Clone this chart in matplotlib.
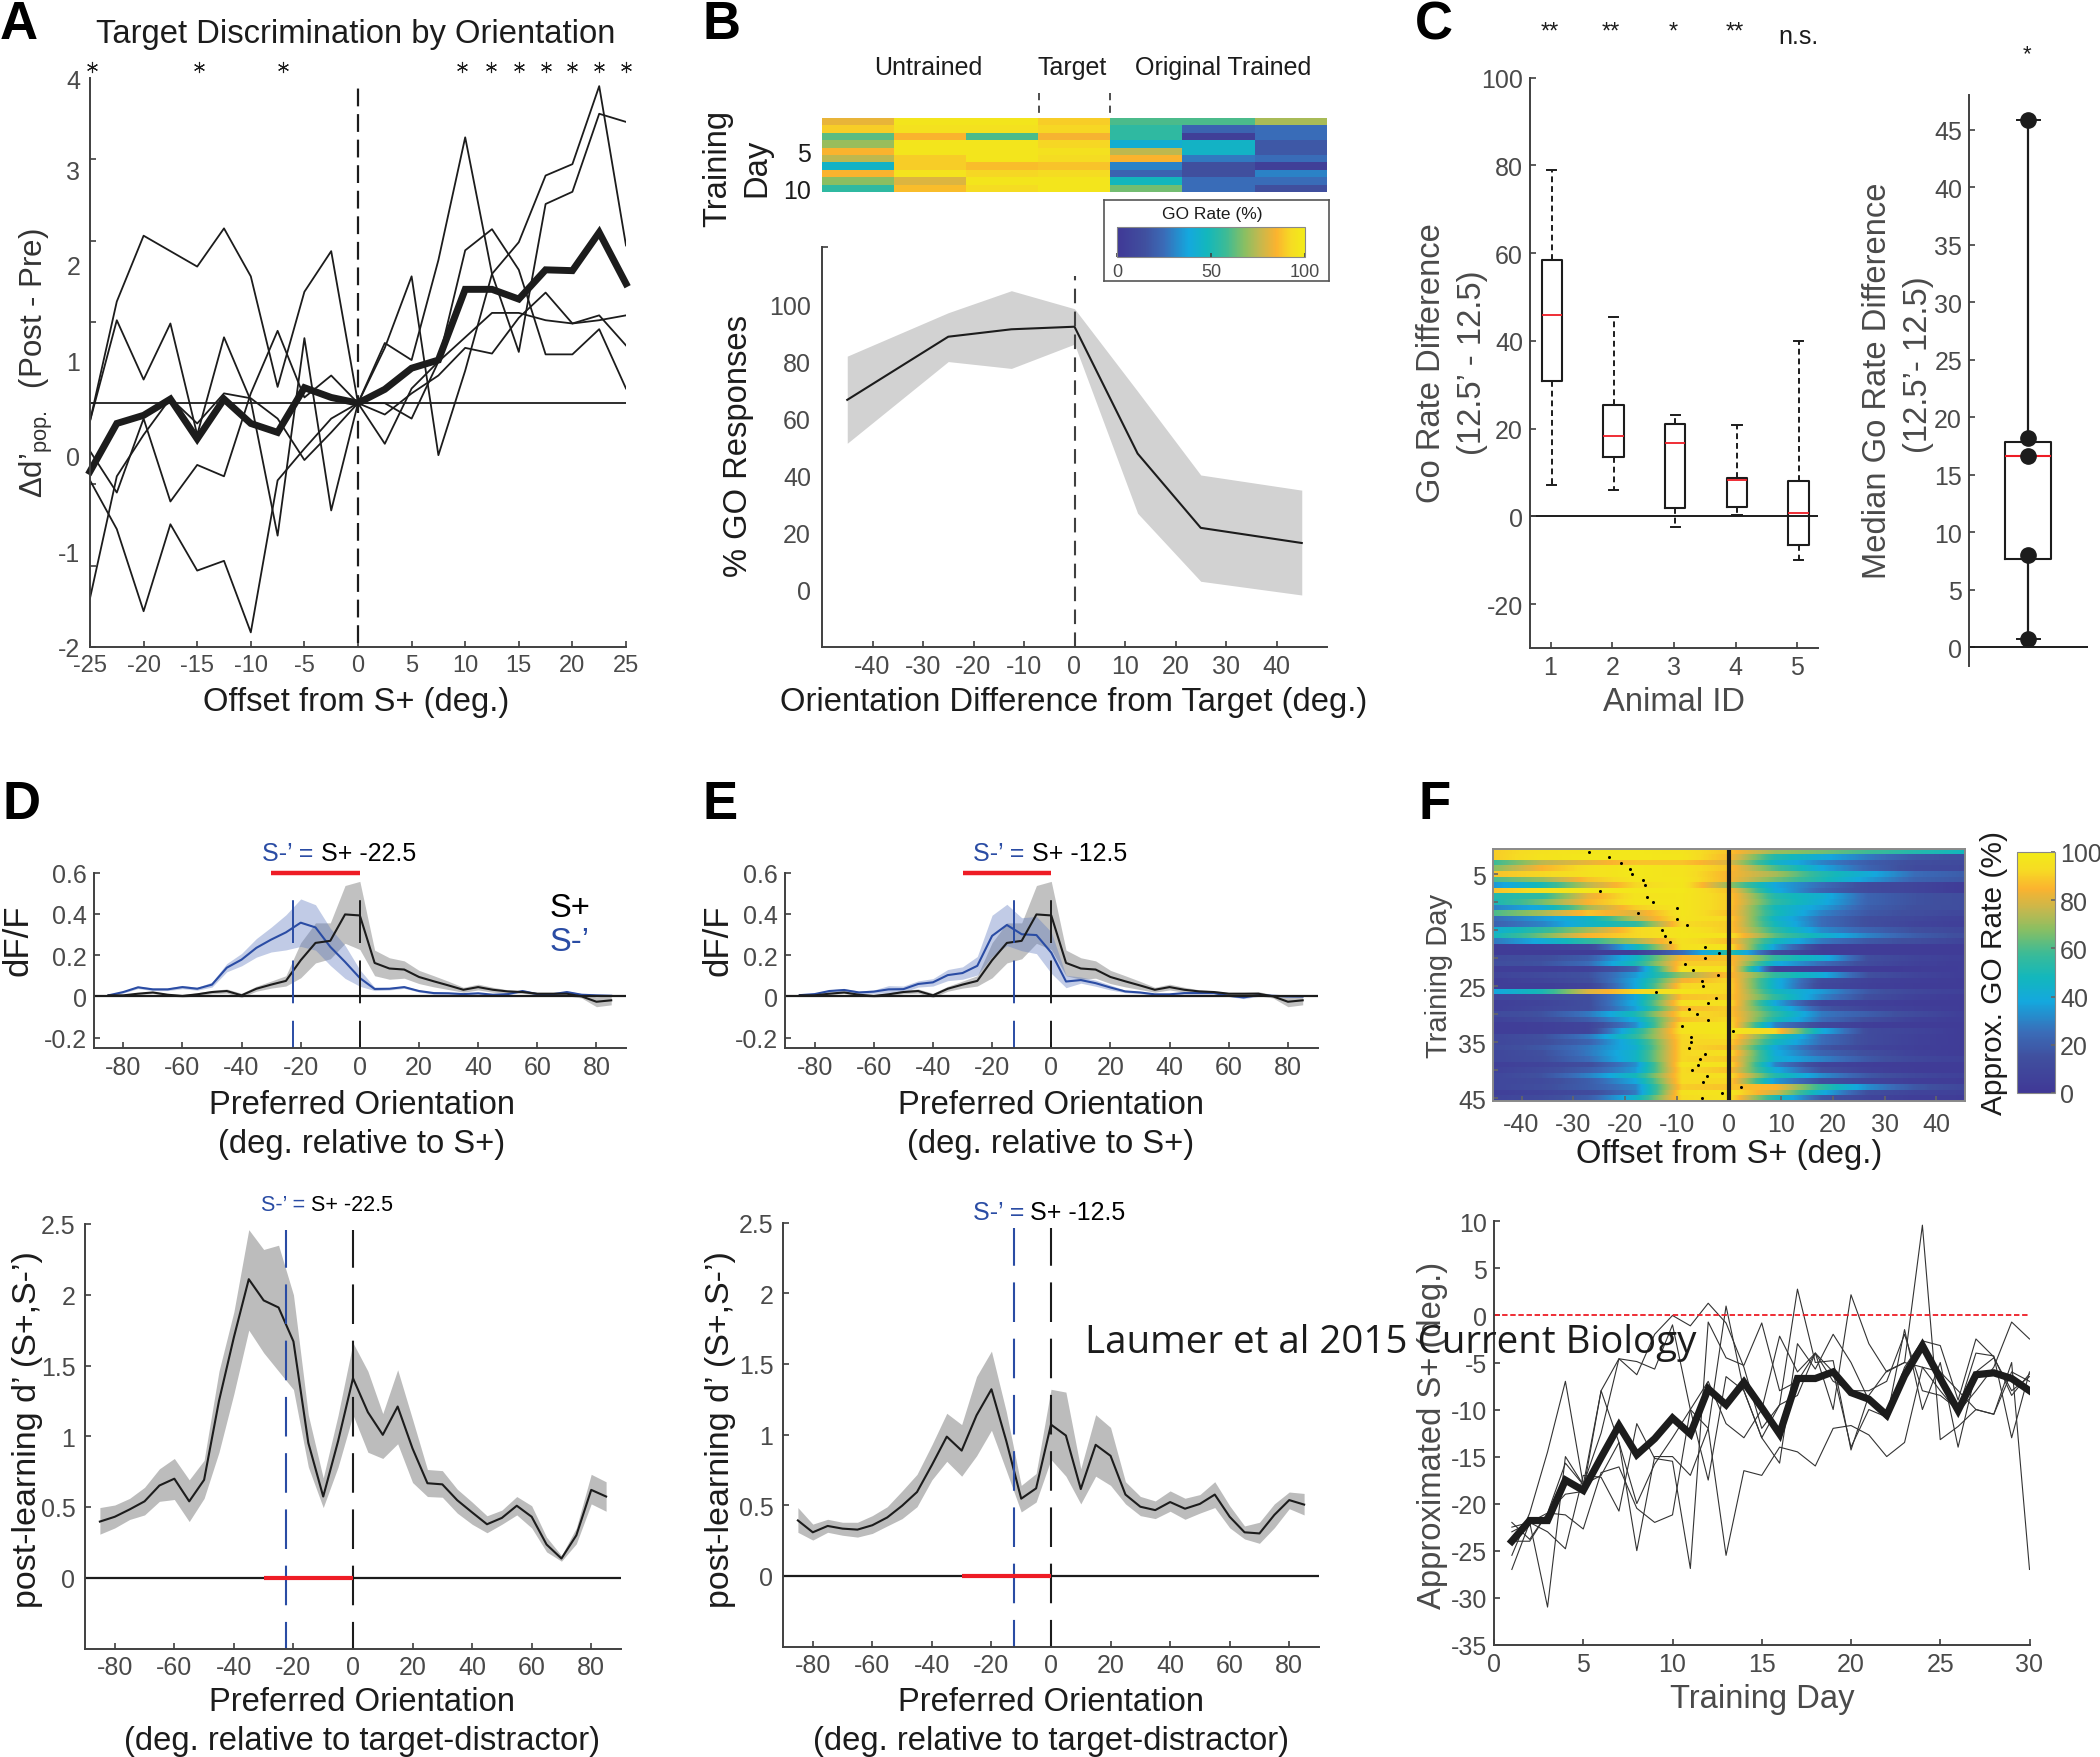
import numpy as np
import matplotlib
matplotlib.use("Agg")
import matplotlib.pyplot as plt
from matplotlib.colors import LinearSegmentedColormap, Normalize
from matplotlib.cm import ScalarMappable

plt.rcParams["font.family"] = ["Liberation Sans", "DejaVu Sans"]
plt.rcParams["mathtext.fontset"] = "custom"
plt.rcParams["mathtext.rm"] = "Liberation Sans"
plt.rcParams["mathtext.it"] = "Liberation Sans"
plt.rcParams["axes.unicode_minus"] = False

# %%
# panel A
a_x = [-25, -22.5, -20, -17.5, -15, -12.5, -10, -7.5, -5, -2.5, 0, 2.5, 5, 7.5, 10, 12.5, 15, 17.5, 20, 22.5, 25]
a_mean = [-0.84, -0.25, -0.15, 0.05, -0.44, 0.05, -0.25, -0.36, 0.19, 0.07, 0, 0.17, 0.43, 0.53, 1.40, 1.40, 1.28, 1.64, 1.63, 2.10, 1.47]
a_line1 = [-0.22, 1.25, 2.06, 1.87, 1.68, 2.15, 1.56, 0.20, 1.37, 1.87, 0, 0.74, 0.53, 1.76, 3.27, 1.59, 0.63, 2.45, 2.60, 3.56, 3.46]
a_line2 = [-0.22, 1.02, 0.29, 0.98, -0.39, 0.81, 0.03, -1.63, 0.80, -1.32, 0, 0.68, 1.56, -0.64, 0.40, 1.59, 1.98, 2.80, 2.94, 3.90, 1.94]
a_line3 = [-0.59, -1.10, -0.19, -1.21, -0.76, -0.90, 0.12, 0.89, 0.07, 0.34, 0, -0.50, 0.18, 0.51, 1.88, 2.14, 1.64, 0.60, 0.60, 0.91, 0.18]
a_line4 = [-0.95, -1.55, -2.56, -1.49, -2.06, -1.94, -2.82, -0.95, -0.56, -0.19, 0, 0, -0.19, 0.51, 0.81, 1.11, 1.11, 1.02, 0.98, 1.02, 1.08]
a_line5 = [-2.40, -0.90, -0.39, 0.06, -0.25, 0.12, 0.06, -0.19, -0.70, -0.36, 0, -0.14, 0.12, 0.34, 0.68, 0.61, 1.05, 1.36, 0.98, 1.08, 0.71]
a_stars = [-24.8, -14.8, -7.0, 9.67, 12.4, 15, 17.5, 20, 22.5, 25]
a_label_pos = [4, 2.87, 1.7, 0.53, -0.64, -1.83, -2.99]
a_labels = ["4", "3", "2", "1", "0", "-1", "-2"]

# panel B
b_heat = [
    [82, 97, 97, 90, 60, 60, 72],
    [90, 95, 95, 92, 55, 22, 25],
    [62, 85, 60, 84, 55, 5, 25],
    [70, 97, 97, 92, 42, 45, 18],
    [85, 97, 97, 95, 75, 45, 18],
    [75, 90, 97, 93, 85, 28, 25],
    [45, 90, 87, 88, 30, 15, 5],
    [85, 96, 92, 93, 22, 15, 30],
    [68, 80, 97, 97, 48, 25, 25],
    [55, 87, 93, 97, 65, 25, 15],
]
b_x = [-45, -25, -12.5, 0, 12.5, 25, 45]
b_mean = [66.5, 88.6, 91.2, 92.1, 47.7, 21.7, 16.4]
b_upper = [81.8, 97, 104.7, 98.4, 69.5, 40.2, 34.9]
b_lower = [51.3, 79.9, 77.5, 86, 26.8, 3, -1.8]

# panel C
c_ids = [1, 2, 3, 4, 5]
c_whishi = [79, 45.5, 23, 20.8, 40]
c_q3 = [58.4, 25.3, 21.1, 8.8, 8]
c_med = [45.8, 18.3, 16.6, 8.2, 0.7]
c_q1 = [30.8, 13.6, 1.8, 2.2, -6.6]
c_whislo = [7.2, 5.9, -2.4, 0.2, -9.9]
c_sig = ["**", "**", "*", "**"]
c2_dots = [45.9, 18.2, 16.6, 8.0, 0.7]
c2_q3 = 17.8
c2_q1 = 7.7

# panels D, E
ori = list(range(-85, 90, 5))
splus = [.005, .005, .013, .019, .008, .002, .01, .021, .026, .005, .037, .057, .075, .175, .259, .269, .397, .392, .162, .135, .13, .094, .073, .053, .032, .045, .032, .024, .021, .013, .013, .013, 0, -.026, -.019]
splus_err = [.003, .003, .004, .005, .005, .006, .007, .008, .01, .01, .012, .017, .025, .085, .097, .087, .14, .165, .062, .052, .042, .032, .027, .02, .012, .014, .012, .008, .006, .006, .006, .01, .008, .024, .022]
d_blue = [.005, .021, .044, .034, .034, .045, .037, .057, .139, .178, .235, .275, .31, .357, .334, .24, .167, .089, .036, .037, .045, .026, .016, .015, .011, .015, .008, .011, .026, .011, .01, .021, .008, .005, .003]
d_blue_err = [.003, .005, .006, .006, .006, .008, .007, .012, .02, .03, .045, .06, .085, .115, .11, .09, .08, .04, .008, .006, .006, .005, .005, .004, .004, .004, .004, .004, .006, .005, .005, .006, .005, .004, .004]
e_blue = [.006, .011, .026, .031, .019, .023, .034, .035, .06, .068, .103, .113, .148, .293, .346, .301, .297, .212, .072, .079, .064, .043, .024, .019, .01, .01, .016, .016, .016, .003, -.005, .006, .003, 0, 0]
e_blue_err = [.004, .005, .006, .006, .007, .008, .018, .015, .015, .018, .027, .03, .045, .1, .1, .08, .09, .1, .03, .015, .015, .012, .006, .005, .004, .004, .004, .004, .004, .004, .006, .006, .004, .004, .004]

d_dp = [.397, .431, .483, .54, .652, .70, .54, .692, 1.25, 1.70, 2.11, 1.96, 1.91, 1.67, .953, .574, .966, 1.41, 1.17, 1.01, 1.21, .913, .668, .66, .548, .462, .378, .423, .509, .431, .235, .136, .30, .621, .574]
d_dp_up = [.496, .514, .561, .639, .77, .843, .692, .83, 1.46, 1.88, 2.46, 2.32, 2.35, 2.0, 1.15, .705, 1.15, 1.66, 1.46, 1.16, 1.47, 1.12, .765, .757, .626, .535, .438, .478, .574, .509, .287, .157, .352, .731, .678]
d_dp_lo = [.308, .352, .412, .444, .54, .553, .397, .561, .887, 1.30, 1.75, 1.59, 1.46, 1.33, .783, .496, .783, 1.15, .887, .843, .947, .673, .574, .569, .457, .378, .318, .378, .444, .352, .183, .117, .24, .522, .47]
e_dp = [.392, .308, .353, .334, .327, .358, .413, .496, .593, .784, .985, .886, 1.136, 1.32, .953, .546, .619, 1.07, .993, .614, .927, .849, .575, .489, .465, .522, .475, .509, .575, .418, .308, .30, .431, .536, .504]
e_dp_up = [.483, .366, .40, .379, .379, .426, .489, .601, .718, .927, 1.15, 1.07, 1.41, 1.59, 1.16, .64, .724, 1.32, 1.30, .758, 1.14, 1.05, .666, .562, .53, .601, .549, .575, .666, .496, .353, .379, .509, .593, .583]
e_dp_lo = [.308, .253, .308, .287, .274, .30, .353, .405, .489, .679, .81, .705, .849, 1.03, .744, .452, .522, .823, .705, .509, .705, .64, .509, .426, .405, .457, .40, .444, .483, .34, .261, .23, .34, .475, .431]

# panel F, heat map rows (day 1 to 45) at the offsets in f_cols
f_cols = [-45, -36, -27, -18, -9, 0, 9, 18, 27, 36, 45]
f_heat = [
    [90, 95, 97, 98, 96, 88, 70, 65, 58, 52, 48],
    [90, 96, 98, 98, 97, 86, 52, 40, 28, 18, 14],
    [58, 75, 82, 88, 88, 80, 45, 30, 20, 14, 12],
    [68, 85, 95, 98, 96, 88, 60, 38, 22, 12, 10],
    [88, 92, 95, 98, 96, 85, 72, 52, 40, 25, 20],
    [60, 70, 88, 97, 97, 85, 65, 50, 35, 22, 18],
    [35, 50, 75, 92, 97, 70, 38, 25, 12, 8, 3],
    [88, 95, 98, 98, 98, 88, 40, 22, 12, 8, 3],
    [52, 55, 82, 96, 97, 90, 52, 42, 22, 16, 14],
    [50, 65, 85, 97, 97, 90, 55, 40, 22, 16, 14],
    [30, 40, 72, 90, 97, 90, 48, 35, 20, 15, 14],
    [60, 72, 88, 80, 97, 88, 50, 30, 18, 14, 10],
    [25, 35, 45, 75, 96, 92, 45, 25, 14, 10, 6],
    [22, 30, 45, 55, 93, 90, 48, 25, 14, 8, 5],
    [42, 55, 72, 92, 97, 90, 55, 32, 22, 15, 10],
    [48, 65, 85, 92, 97, 96, 62, 44, 30, 20, 14],
    [28, 40, 55, 72, 95, 88, 48, 28, 18, 14, 8],
    [3, 5, 10, 45, 95, 97, 35, 5, 3, 3, 3],
    [3, 3, 3, 4, 25, 55, 12, 3, 3, 3, 3],
    [12, 14, 20, 45, 86, 88, 55, 42, 14, 8, 5],
    [14, 16, 25, 50, 90, 90, 40, 25, 12, 6, 4],
    [4, 4, 6, 22, 95, 95, 6, 3, 2, 3, 4],
    [8, 12, 16, 35, 70, 88, 55, 40, 15, 8, 4],
    [4, 8, 14, 38, 84, 92, 42, 12, 6, 4, 3],
    [4, 4, 8, 38, 92, 93, 42, 10, 5, 3, 3],
    [38, 50, 80, 92, 97, 92, 48, 35, 18, 10, 6],
    [10, 12, 15, 38, 88, 90, 55, 30, 14, 6, 3],
    [5, 8, 14, 40, 95, 95, 38, 8, 5, 3, 3],
    [5, 10, 14, 36, 86, 90, 48, 18, 8, 5, 3],
    [12, 16, 28, 50, 93, 90, 55, 28, 20, 12, 5],
    [7, 12, 20, 40, 88, 93, 50, 25, 14, 6, 4],
    [4, 5, 8, 32, 96, 96, 30, 10, 4, 3, 3],
    [4, 5, 8, 50, 96, 97, 92, 40, 12, 8, 3],
    [10, 15, 28, 55, 92, 95, 55, 25, 12, 6, 3],
    [10, 14, 22, 45, 92, 92, 48, 25, 12, 6, 3],
    [12, 18, 28, 42, 92, 88, 38, 18, 8, 5, 3],
    [10, 15, 28, 45, 92, 95, 40, 22, 14, 6, 3],
    [10, 14, 25, 45, 92, 90, 42, 30, 18, 10, 6],
    [5, 8, 14, 32, 96, 96, 30, 8, 4, 3, 3],
    [7, 12, 20, 35, 93, 88, 40, 15, 6, 3, 3],
    [10, 16, 30, 48, 93, 95, 52, 32, 18, 10, 6],
    [10, 12, 20, 38, 93, 92, 35, 14, 8, 4, 3],
    [10, 14, 20, 30, 90, 88, 85, 55, 32, 18, 10],
    [5, 8, 12, 28, 95, 97, 78, 40, 14, 8, 6],
    [8, 12, 20, 44, 93, 96, 50, 18, 8, 4, 3],
]
f_dots = [-27, -23.1, -20.8, -19, -18.7, -16.5, -16.2, -24.9, -15.8, -14.7, -10.1, -17.6, -10.1, -8.1, -12.9, -12.4, -11.4, -4.7, -1.9, -4.6, -8.4, -7, -2.1, -5.3, -5, -14.1, -2.5, -4.1, -7.7, -6.2, -4.1, -9.1, 0.8, -7.4, -7.4, -7.8, -4.7, -5.5, -5.9, -7.2, -4.3, -5.1, 2.3, -1.4, -5.2]

days = list(range(1, 31))
f_mean = [-24.0, -21.8, -21.8, -17.5, -18.6, -15.1, -11.7, -14.8, -13.1, -10.9, -12.6, -7.8, -9.5, -7.1, -9.8, -12.6, -6.7, -6.7, -6.0, -8.2, -8.9, -10.6, -6.4, -3.2, -6.7, -10.1, -6.3, -6.1, -6.7, -8.0]
f_line1 = [-23, -22, -31, -15, -18, -17, -13.5, -25, -15, -15, -17, -12, -25.5, -16.5, -17, -14, -14.5, -16, -12, -11.7, -12.7, -15, -13.5, -5.5, -6, -8, -10, -10.5, -5, -27]
f_line2 = [-25.5, -21, -14.5, -7, -18, -8, -4.6, -4.9, -5.7, -1, -10, -17.5, -6.5, -8, -13, -15.7, -3, -5.7, -2, -5, -9, -11, -1.5, -10, -5, -14, -6, -4.5, -8, -6.5]
f_line3 = [-27, -22, -21, -15.7, -18, -12.5, -4.6, -6.3, -2, 0, -1.1, 1.3, -0.8, -5.5, -12, -9.5, -8.5, -4, -6, -14, -10, -10.8, -5.5, -2.7, -3.2, -9, -2.5, -4.4, -8.5, -6.2]
f_line4 = [-24, -24, -21, -21.2, -22.7, -16.7, -16.1, -20.5, -22, -21.2, -10, -7, -11.5, -13, -10, -2.2, -6, -4, -7, -8, -8, -7, -2, -8, -8.5, -10, -4, -4.3, -13, -6]
f_line5 = [-22.5, -22, -23, -24.8, -17, -17.2, -20.8, -11.5, -15.2, -15.5, -26.9, -0.7, -4.5, -5.3, -0.8, -8, -7, -4, -10, 2.2, -3, -6, -5, 9.6, -13.2, -11.8, -10, -10.5, -6, -7]
f_line6 = [-22, -23.8, -21, -19, -18.7, -8, -13.5, -20, -15.8, -13, -10, -12, 1, -8, -13, -9.5, 2.8, -5, -4.8, -14.3, -8.5, -5.9, -5, -5.5, -8, -10.3, -8, -5.5, -0.7, -2.5]

# %%
W, H = 2100, 1758
DARK = "#1c1c1c"
GRAY = "#4a4a4a"
AXC = "#404040"
BLUE = "#2a4ca4"
RED = "#ee1c25"
TICK = 18
LABEL = 23.6

parula = LinearSegmentedColormap.from_list("parula_like", [
    (0.00, "#403896"), (0.15, "#40509f"), (0.25, "#3a6cb8"), (0.38, "#14a8de"),
    (0.48, "#13b7bc"), (0.58, "#3cbb96"), (0.68, "#8abf62"), (0.76, "#c4b84e"),
    (0.85, "#fbb32f"), (0.93, "#f6dc23"), (1.00, "#f2ec18")])
norm = Normalize(0, 100)

fig = plt.figure(figsize=(W / 100, H / 100), dpi=100)


def add_ax(left, top, right, bottom):
    ax = fig.add_axes([left / W, 1 - bottom / H, (right - left) / W, (bottom - top) / H])
    ax.patch.set_alpha(0)
    for s in ["top", "right"]:
        ax.spines[s].set_visible(False)
    for s in ["left", "bottom"]:
        ax.spines[s].set_color(AXC)
        ax.spines[s].set_linewidth(1.4)
    ax.tick_params(direction="in", length=4.5, width=1.2, color=AXC, labelcolor=GRAY, labelsize=TICK, pad=5)
    return ax


def ftext(x, y, s, size=LABEL, color=DARK, ha="center", va="center", **kw):
    return fig.text(x / W, 1 - y / H, s, fontsize=size, color=color, ha=ha, va=va, **kw)


for letter, lx, ly in [("A", 0, 39), ("B", 703, 39), ("C", 1415, 39), ("D", 2, 819), ("E", 703, 819), ("F", 1418, 819)]:
    ftext(lx, ly, letter, size=38, color="black", ha="left", va="baseline", fontweight="bold")

# %%
# A
ax = add_ax(90, 79, 626, 648)
for line in [a_line1, a_line2, a_line3, a_line4, a_line5]:
    ax.plot(a_x, line, color=DARK, lw=1.3)
ax.plot(a_x, a_mean, color=DARK, lw=5, solid_joinstyle="miter", clip_on=False)
ax.axhline(0, color=DARK, lw=1.3)
ax.plot([0, 0], [-2.95, 3.95], color=DARK, lw=1.6, dashes=(8, 3.5))
ax.plot(a_stars, [4.13] * len(a_stars), ls="none", marker=(6, 2, 0), ms=8, mew=0.8, color=DARK, clip_on=False)
ax.set_xlim(-25, 25)
ax.set_ylim(-3, 4)
ax.set_xticks(range(-25, 30, 5))
ax.set_yticks(a_label_pos, a_labels)
ax.set_yticks(range(-3, 5), minor=True)
ax.tick_params(axis="y", which="major", length=0, pad=7)
ax.tick_params(axis="y", which="minor", direction="in", length=4.5, width=1.2, color=AXC)
ax.tick_params(axis="x", labelsize=TICK - 1)
ftext(356, 34, "Target Discrimination by Orientation")
ftext(356, 703, "Offset from S+ (deg.)")
ftext(36, 363, r"Δd’$_{\mathrm{pop.}}$  (Post - Pre)", size=22.5, color="#333333", rotation=90)

# %%
# B
ax = add_ax(822, 119, 1327, 193)
ax.imshow(b_heat, cmap=parula, norm=norm, aspect="auto", extent=(0, 7, 10.5, 0.5), interpolation="nearest")
ax.set_xticks([])
ax.set_yticks([5, 10])
ax.tick_params(axis="y", length=0, labelcolor=DARK, labelsize=TICK, pad=8)
for s in ax.spines.values():
    s.set_visible(False)
ftext(928, 68, "Untrained", size=18)
ftext(1072, 68, "Target", size=18)
ftext(1223, 68, "Original Trained", size=18)
ftext(718, 168, "Training", rotation=90)
ftext(757, 168, "Day", rotation=90)
for px in [1039, 1110]:
    fig.add_artist(plt.Line2D([px / W, px / W], [1 - 94 / H, 1 - 118 / H], color=AXC, lw=1.3, dashes=(4, 3)))

ax = add_ax(822, 248, 1327, 648)
ax.fill_between(b_x, b_lower, b_upper, color="#d2d2d2", lw=0)
ax.plot(b_x, b_mean, color=DARK, lw=1.5)
ax.plot([0, 0], [-20, 110], color=AXC, lw=1.5, dashes=(7, 4))
ax.set_xlim(-50, 50)
ax.set_ylim(-20, 120)
ax.set_xticks(range(-40, 50, 10))
ax.set_yticks(range(0, 120, 20))
ax.set_yticks([120], minor=True)
ax.tick_params(axis="y", which="major", length=0, pad=8)
ax.tick_params(axis="y", which="minor", direction="in", length=4.5, width=1.2, color=AXC)
ftext(1074, 703, "Orientation Difference from Target (deg.)")
ftext(739, 446, "% GO Responses", rotation=90)

box = add_ax(1104, 201, 1329, 282)
box.set_xticks([])
box.set_yticks([])
box.patch.set_alpha(1)
for s in box.spines.values():
    s.set_visible(True)
    s.set_color("#555555")
    s.set_linewidth(1.2)
ftext(1212, 215, "GO Rate (%)", size=12.5)
cax = add_ax(1117, 228, 1305, 258)
cb = fig.colorbar(ScalarMappable(norm=norm, cmap=parula), cax=cax, orientation="horizontal")
cb.set_ticks([0, 50, 100])
cb.ax.tick_params(direction="in", length=3, color=AXC, labelcolor=GRAY, labelsize=13, pad=4)
cb.outline.set_edgecolor("#888888")

# %%
# C
ax = add_ax(1530, 78.5, 1818, 649)
stats = []
for q in zip(c_whislo, c_q1, c_med, c_q3, c_whishi):
    stats.append(dict(whislo=q[0], q1=q[1], med=q[2], q3=q[3], whishi=q[4], fliers=[]))
ax.bxp(stats, positions=[i + 0.02 for i in c_ids], widths=0.33, showfliers=False,
       boxprops=dict(color=DARK, lw=1.5), medianprops=dict(color=RED, lw=1.3),
       whiskerprops=dict(color=DARK, lw=1.4, ls=(0, (3, 2))), capprops=dict(color=DARK, lw=1.4), capwidths=0.15)
ax.axhline(0, color=DARK, lw=1.4, zorder=1)
ax.set_xlim(0.667, 5.333)
ax.set_ylim(-30, 100)
ax.set_xticks(c_ids, [str(i) for i in c_ids])
ax.set_yticks(range(-20, 120, 20))
for x, s in zip(c_ids, c_sig):
    ax.text(x - 0.02, 110.5, s, fontsize=17, color=DARK, ha="center", va="center", clip_on=False)
ax.text(5.01, 109.5, "n.s.", fontsize=18, color=DARK, ha="center", va="center", clip_on=False)
ftext(1674, 703, "Animal ID", color=GRAY)
ftext(1432, 363, "Go Rate Difference", color=GRAY, rotation=90)
ftext(1472, 363, "(12.5’ - 12.5)", color=GRAY, rotation=90)

ax = add_ax(1969, 95.5, 2088, 667)
ax.spines["bottom"].set_visible(False)
ax.set_xlim(0, 1)
ax.set_ylim(-1.65, 48.08)
ax.axhline(0, color=DARK, lw=1.4)
ax.bxp([dict(whislo=c2_dots[-1], q1=c2_q1, med=c2_dots[2], q3=c2_q3, whishi=c2_dots[0], fliers=[])],
       positions=[0.498], widths=0.39, showfliers=False, manage_ticks=False,
       boxprops=dict(color=DARK, lw=1.5), medianprops=dict(color=RED, lw=1.5),
       whiskerprops=dict(color=DARK, lw=1.6), capprops=dict(color=DARK, lw=1.4), capwidths=0.19)
ax.plot([0.498] * len(c2_dots), c2_dots, "o", color=DARK, ms=11, zorder=5, clip_on=False)
ax.text(0.49, 51.6, "*", fontsize=16, color=DARK, ha="center", va="center", clip_on=False)
ax.set_xticks([])
ax.set_yticks(range(0, 50, 5))
ftext(1877, 381, "Median Go Rate Difference", color=GRAY, rotation=90)
ftext(1918, 365, "(12.5’- 12.5)", color=GRAY, rotation=90)


# %%
def tuning(left, right, blue, blue_err, sminus, label_px, show_legend, center):
    ax = add_ax(left, 873.5, right, 1049)
    s_m, s_e = np.array(splus), np.array(splus_err)
    b_m, b_e = np.array(blue), np.array(blue_err)
    ax.fill_between(ori, s_m - s_e, s_m + s_e, color="#8f8f8f", alpha=0.55, lw=0)
    ax.fill_between(ori, b_m - b_e, b_m + b_e, color="#5c78bf", alpha=0.38, lw=0)
    ax.plot(ori, blue, color=BLUE, lw=1.5)
    ax.plot(ori, splus, color=DARK, lw=1.5)
    ax.axhline(0, color=DARK, lw=1.6)
    ax.plot([sminus, sminus], [-0.25, 0.51], color=BLUE, lw=1.4, ls=(8, (22, 9)))
    ax.plot([0, 0], [-0.25, 0.51], color=DARK, lw=1.4, ls=(8, (22, 9)))
    ax.plot([-30, 0], [0.6, 0.6], color=RED, lw=3.2, solid_capstyle="butt", clip_on=False)
    ax.set_xlim(-90, 90)
    ax.set_ylim(-0.25, 0.6)
    ax.set_xticks(range(-80, 100, 20))
    ax.set_yticks([-0.2, 0, 0.2, 0.4, 0.6], ["-0.2", "0", "0.2", "0.4", "0.6"])
    ftext(label_px, 854, "S-’ =", size=18, color=BLUE, ha="right")
    ftext(label_px + 8, 854, "S+ -%s" % str(abs(sminus)), size=18, color="black", ha="left")
    ftext(center, 1106, "Preferred Orientation", color=DARK)
    ftext(center, 1145, "(deg. relative to S+)", color=DARK)
    if show_legend:
        ftext(570, 909, "S+", color="black")
        ftext(570, 943, "S-’", color=BLUE)
    return ax


def dprime(left, top, right, bottom, line, up, lo, sminus, label_px, label_y, label_size, center):
    ax = add_ax(left, top, right, bottom)
    ax.fill_between(ori, lo, up, color="#bcbcbc", lw=0)
    ax.plot(ori, line, color=DARK, lw=1.5)
    ax.axhline(0, color=DARK, lw=1.6)
    ax.plot([sminus, sminus], [-0.5, 2.46], color=BLUE, lw=1.5, ls=(6, (19, 8)))
    ax.plot([0, 0], [-0.5, 2.46], color=DARK, lw=1.5, ls=(6, (19, 8)))
    ax.plot([-30, 0], [0, 0], color=RED, lw=3, solid_capstyle="butt", zorder=5)
    ax.set_xlim(-90, 90)
    ax.set_ylim(-0.5, 2.5)
    ax.set_xticks(range(-80, 100, 20))
    ax.set_yticks([0, 0.5, 1, 1.5, 2, 2.5], ["0", "0.5", "1", "1.5", "2", "2.5"])
    ax.tick_params(axis="y", pad=7)
    ftext(label_px, label_y, "S-’ =", size=label_size, color=BLUE, ha="right")
    ftext(label_px + 6, label_y, "S+ -%s" % str(abs(sminus)), size=label_size, color="black", ha="left")
    ftext(center, 1703, "Preferred Orientation", color=DARK)
    ftext(center, 1742, "(deg. relative to target-distractor)", color=DARK)
    return ax


tuning(93.7, 626, d_blue, d_blue_err, -22.5, 313, True, 362)
tuning(785, 1317.5, e_blue, e_blue_err, -12.5, 1024, False, 1051)
ftext(18, 940, "dF/F", size=25, rotation=90, color=DARK)
ftext(718, 940, "dF/F", size=25, rotation=90, color=DARK)

dprime(85, 1225, 621, 1649.5, d_dp, d_dp_up, d_dp_lo, -22.5, 305, 1206, 15.5, 362)
dprime(783, 1223.5, 1319, 1647.5, e_dp, e_dp_up, e_dp_lo, -12.5, 1024, 1212.5, 18, 1051)
ftext(28, 1430, "post-learning d’ (S+,S-’)", size=24.5, rotation=90, color=DARK)
ftext(720, 1430, "post-learning d’ (S+,S-’)", size=24.5, rotation=90, color=DARK)

# %%
# F heat map, each day is its own strip so rows stay crisp
ax = add_ax(1493, 850, 1965, 1102.3)
for i, row in enumerate(f_heat):
    ax.imshow([row], cmap=parula, norm=norm, aspect="auto", interpolation="bilinear",
              extent=(-49.5, 49.5, i + 1.5, i + 0.5))
ax.plot(f_dots, range(1, len(f_dots) + 1), "o", color="black", ms=2.2, mew=0)
ax.axvline(0, color=DARK, lw=3)
ax.set_xlim(-45.5, 45.5)
ax.set_ylim(45.5, 0.5)
ax.set_xticks(range(-40, 50, 10))
ax.set_yticks(range(5, 50, 5))
ax.set_yticks(range(10, 50, 10), minor=True)
ax.set_yticklabels(["5", "", "15", "", "25", "", "35", "", "45"])
ax.tick_params(color="#666666", length=3.5)
ax.tick_params(axis="x", pad=8)
for s in ax.spines.values():
    s.set_visible(True)
    s.set_color("#8a8a8a")
    s.set_linewidth(1.4)
ftext(1729, 1154, "Offset from S+ (deg.)")
ftext(1439, 976, "Training Day", size=21, color=GRAY, rotation=90)

cax = add_ax(2016.5, 853, 2054.5, 1094)
cb = fig.colorbar(ScalarMappable(norm=norm, cmap=parula), cax=cax)
cb.set_ticks(range(0, 120, 20))
cb.ax.tick_params(direction="in", length=3, color="#666666", labelcolor=GRAY, labelsize=TICK, pad=4)
cb.outline.set_edgecolor("#888888")
ftext(1994, 973, "Approx. GO Rate (%)", size=21.5, rotation=90)

# %%
# F lines
ax = add_ax(1494, 1222.4, 2029.5, 1645.7)
for line in [f_line1, f_line2, f_line3, f_line4, f_line5, f_line6]:
    ax.plot(days, line, color="#333333", lw=0.8)
ax.plot(days, f_mean, color=DARK, lw=5.2, solid_joinstyle="miter")
ax.plot([0, 30], [0, 0], color=RED, lw=1.3, dashes=(3, 1.5))
ax.set_xlim(0, 30)
ax.set_ylim(-35, 10)
ax.set_xticks(range(0, 35, 5))
ax.set_yticks(range(-35, 15, 5))
ftext(1762, 1700, "Training Day", color=GRAY)
ftext(1433, 1435, "Approximated S+ (deg.)", color=GRAY, rotation=90)

fig.text(1085 / W, 1 - 1343 / H, "Laumer et al 2015 Current Biology", fontsize=27.7, color=DARK,
         family="Open Sans", ha="left", va="center")

fig.savefig("out.png", dpi=100)
